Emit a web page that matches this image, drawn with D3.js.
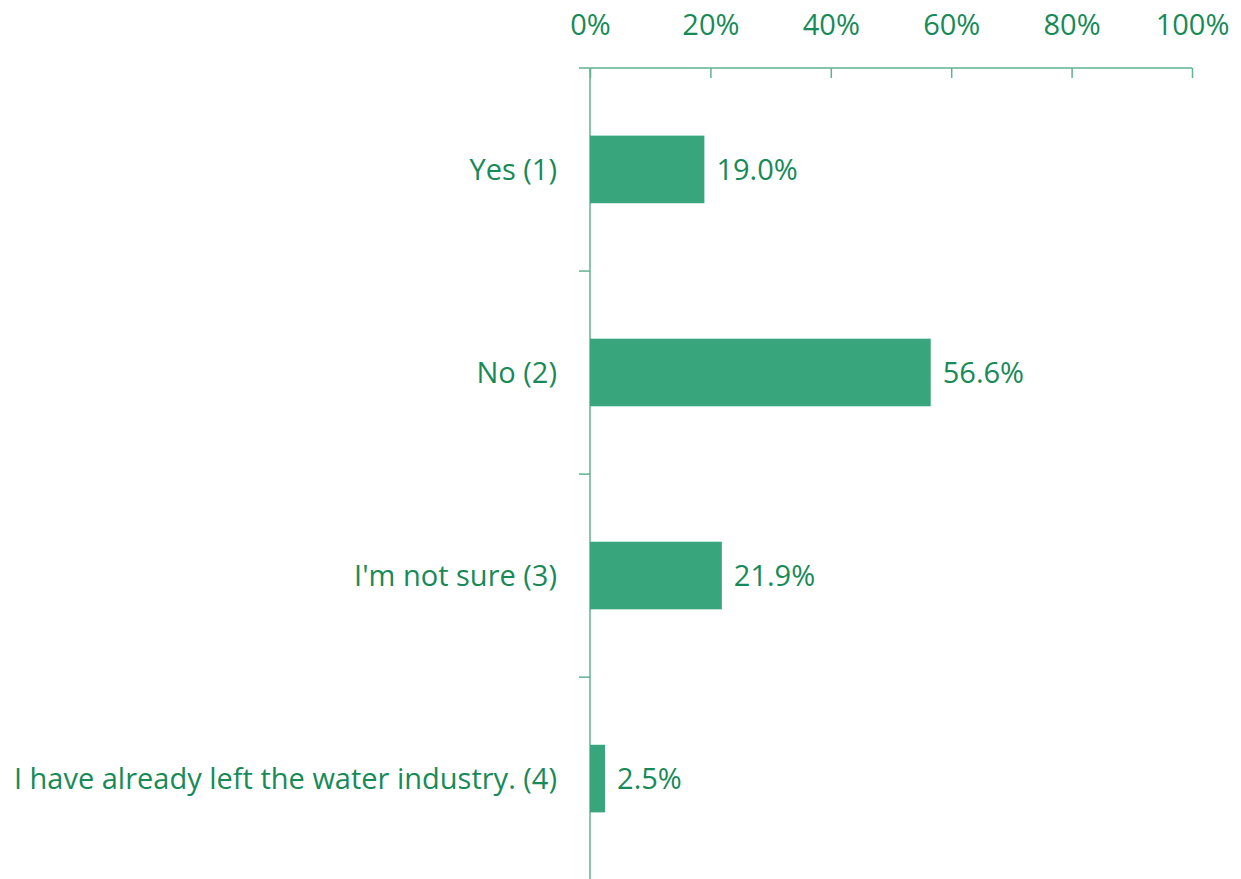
<!DOCTYPE html>
<html lang="en">

<head>
    <meta charset="UTF-8">
    <title>Survey responses</title>
    <script src="https://d3js.org/d3.v7.min.js"></script>
    <style>
        body {
            margin: 0;
            background: #fff;
        }

        text {
            font-family: "Open Sans", sans-serif;
            fill: #178a58;
        }

        .bar {
            fill: #38a57c;
        }

        .axis path,
        .axis line {
            stroke: #5fb38f;
            stroke-width: 1.5;
        }
    </style>
</head>

<body>
<svg></svg>

<script>
    // data
    const categories = ["Yes (1)", "No (2)", "I'm not sure (3)", "I have already left the water industry. (4)"];
    const values = [19.0, 56.6, 21.9, 2.5];
    const xTicks = [0, 20, 40, 60, 80, 100];

    const width = 1241;
    const height = 879;
    const margin = { top: 68, left: 590, right: 49 };
    const fontSize = "29px";

    const svg = d3.select("svg")
        .attr("width", width)
        .attr("height", height);

    const x = d3.scaleLinear()
        .domain([0, 100])
        .range([margin.left, width - margin.right]);

    const y = d3.scaleBand()
        .domain(categories)
        .range([margin.top, margin.top + 812])
        .paddingInner(0.667)
        .paddingOuter(0.333);

    const data = categories.map((c, i) => ({ name: c, value: values[i] }));

    // top axis
    const xAxis = svg.append("g")
        .attr("class", "axis")
        .attr("transform", `translate(0,${margin.top})`)
        .call(d3.axisTop(x).tickValues(xTicks).tickSize(-10).tickSizeOuter(0).tickPadding(0)
            .tickFormat(d => d + "%"));
    xAxis.select(".domain").attr("d", `M${margin.left - 11},0H${x(100)}`);
    xAxis.selectAll(".tick text")
        .attr("y", -33)
        .attr("dy", 0)
        .style("font-size", fontSize)
        .style("fill", "#178a58");

    // left axis: line plus ticks at category boundaries
    const yAxis = svg.append("g").attr("class", "axis");
    yAxis.append("line")
        .attr("x1", margin.left).attr("x2", margin.left)
        .attr("y1", margin.top).attr("y2", height);
    yAxis.selectAll(".cat-tick")
        .data(d3.range(1, categories.length))
        .join("line")
        .attr("class", "cat-tick")
        .attr("x1", margin.left - 11).attr("x2", margin.left)
        .attr("y1", i => margin.top + i * y.step())
        .attr("y2", i => margin.top + i * y.step());

    // category labels
    svg.selectAll(".cat-label")
        .data(data)
        .join("text")
        .attr("class", "cat-label")
        .attr("x", margin.left - 33)
        .attr("y", d => y(d.name) + y.bandwidth() / 2)
        .attr("dy", "0.35em")
        .attr("text-anchor", "end")
        .style("font-size", fontSize)
        .text(d => d.name);

    // bars
    svg.selectAll(".bar")
        .data(data)
        .join("rect")
        .attr("class", "bar")
        .attr("x", x(0))
        .attr("y", d => y(d.name))
        .attr("width", d => x(d.value) - x(0))
        .attr("height", y.bandwidth());

    // value labels
    svg.selectAll(".value-label")
        .data(data)
        .join("text")
        .attr("class", "value-label")
        .attr("x", d => x(d.value) + 12)
        .attr("y", d => y(d.name) + y.bandwidth() / 2)
        .attr("dy", "0.35em")
        .style("font-size", fontSize)
        .text(d => d.value.toFixed(1) + "%");
</script>
</body>

</html>
